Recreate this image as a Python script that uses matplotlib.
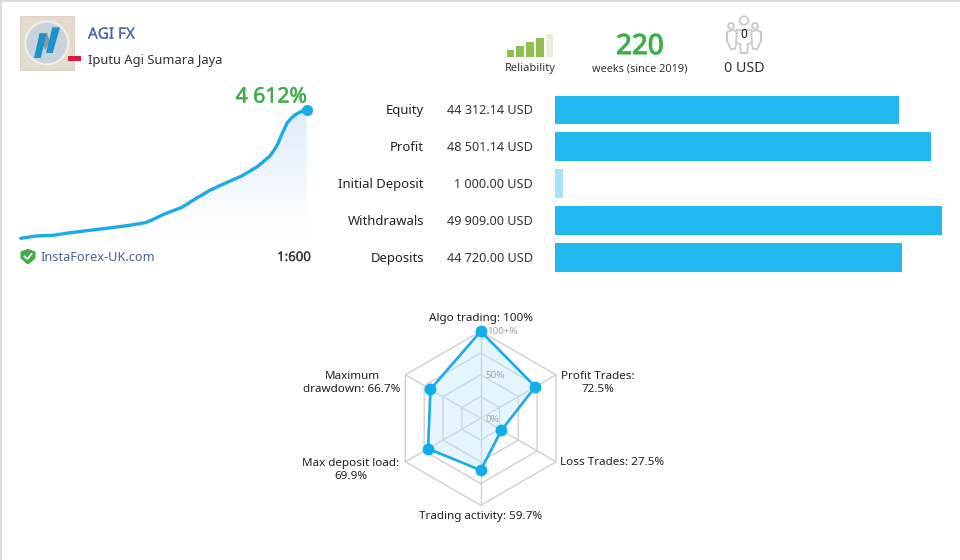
import numpy as np
import matplotlib
matplotlib.use('Agg')
import matplotlib.pyplot as plt
import matplotlib.patheffects as pe
from matplotlib.patches import Circle, Polygon, Rectangle

plt.rcParams['font.family'] = ['Noto Sans', 'DejaVu Sans']

W, H = 960, 560

# growth curve
growth_weeks = [0, 12, 25, 35, 51, 66, 82, 96, 102, 110, 124, 135, 146, 156, 170, 182, 192, 195, 198, 200, 203, 205, 208, 211, 214, 217, 220]
growth_pct = [0, 84, 108, 180, 276, 359, 455, 563, 683, 862, 1114, 1437, 1737, 1953, 2240, 2575, 2971, 3175, 3414, 3650, 3953, 4150, 4313, 4430, 4516, 4575, 4612]

# account bars
bar_labels = ['Equity', 'Profit', 'Initial Deposit', 'Withdrawals', 'Deposits']
bar_values = [44312.14, 48501.14, 1000.00, 49909.00, 44720.00]
bar_texts = ['44 312.14 USD', '48 501.14 USD', '1 000.00 USD', '49 909.00 USD', '44 720.00 USD']

# radar
radar_labels = ['Algo trading: 100%', 'Profit Trades:\n72.5%', 'Loss Trades: 27.5%',
                'Trading activity: 59.7%', 'Max deposit load:\n69.9%', 'Maximum\ndrawdown: 66.7%']
radar_values = [100, 72.5, 27.5, 59.7, 69.9, 66.7]
radar_rings = [25, 50, 75, 100]
radar_ticks = ['0%', '50%', '100+%']

# reliability steps
reliability_heights = [7, 11, 15, 19, 23]

BLUE = '#22b8f0'
LINE_BLUE = '#1cabe4'
GREEN = '#3fae49'
DARK = '#222222'


def px_axes(fig, left, top, width, height, **kwargs):
    return fig.add_axes([left / W, 1 - (top + height) / H, width / W, height / H], **kwargs)


def thicken(text, width=0.15):
    text.set_path_effects([pe.withStroke(linewidth=width, foreground=text.get_color())])


fig = plt.figure(figsize=(9.6, 5.6), dpi=100, facecolor='white')

# page layer in pixel coordinates
page = fig.add_axes([0, 0, 1, 1])
page.set_xlim(0, W)
page.set_ylim(H, 0)
page.axis('off')
page.plot([0, W], [0.5, 0.5], color='#dddddd', lw=1.5)
page.plot([0.5, 0.5], [0, H], color='#dddddd', lw=1.5)

# logo
page.add_patch(Rectangle((20, 16), 54, 54, fc='#e3dccb', ec='#d6cfbf', lw=0.6))
page.add_patch(Circle((46.7, 43), 21.5, fc='#c9d3da', ec='#efefec', lw=1.5))
page.add_patch(Polygon([[39, 33], [47, 33], [50, 42], [45, 50]], fc='#8f979c'))
page.add_patch(Polygon([[39.5, 33.5], [46.7, 33.5], [40.7, 58], [34, 58]], fc='#1a94c8'))
page.add_patch(Polygon([[52.3, 27.3], [60, 27.3], [52.7, 53], [46, 53]], fc='#1a94c8'))
page.add_patch(Rectangle((68, 56), 13, 5, fc='#d8183c', ec='none'))

thicken(page.text(88, 35, 'AGI FX', fontsize=11, color='#4a6aa8', va='center'))
page.text(88, 60.5, 'Iputu Agi Sumara Jaya', fontsize=9.25, color='#333333', va='center')
thicken(page.text(307, 97, '4 612%', fontsize=15.2, color=GREEN, ha='right', va='center'), 0.4)

# reliability icon
for i, h in enumerate(reliability_heights):
    page.add_patch(Rectangle((506.7 + i * 9.75, 56.7 - h), 7.6, h, ec='none',
                             fc='#8dc04f' if i < 4 else '#e6f0da'))
page.text(530, 69, 'Reliability', fontsize=8, color='#333333', ha='center', va='center')

thicken(page.text(640, 47, '220', fontsize=20, color=GREEN, ha='center', va='center'), 0.8)
page.text(640, 69, 'weeks (since 2019)', fontsize=7.9, color='#333333', ha='center', va='center')

# subscribers icon
icon = '#cccccc'
for cx, cy, r in [(731, 26, 3), (744, 20.5, 4.3), (755, 26, 3)]:
    page.add_patch(Circle((cx, cy), r, fc='white', ec=icon, lw=1.4))
page.add_patch(Polygon([[727, 32], [733, 30], [737, 32], [737, 41], [735, 49], [731, 49], [727, 41]],
                       fc='white', ec=icon, lw=1.4))
page.add_patch(Polygon([[751, 32], [756, 30], [761, 32], [761, 41], [757, 49], [753, 49], [751, 41]],
                       fc='white', ec=icon, lw=1.4))
page.add_patch(Polygon([[737, 30], [751, 30], [752, 42], [748, 44], [747, 53], [741, 53], [740, 44], [736, 42]],
                       fc='white', ec=icon, lw=1.4))
page.text(744, 35, '0', fontsize=8.5, color='#111111', ha='center', va='center')
page.text(744.5, 69, '0 USD', fontsize=10.3, color='#333333', ha='center', va='center')

# broker row
page.add_patch(Polygon([[21, 252], [28, 249.5], [35, 252], [35, 258], [28, 264], [21, 258]], fc=GREEN, ec=GREEN, lw=0.8))
page.plot([24.5, 27.5, 31.5], [256.5, 259, 254], color='white', lw=1.3)
page.text(40, 257.5, 'InstaForex-UK.com', fontsize=9.2, color='#4a6096', va='center')
thicken(page.text(311, 257.5, '1:600', fontsize=9.5, color='#333333', ha='right', va='center'))

# growth line
ax_line = px_axes(fig, 20.7, 110, 286, 128.3)
ax_line.set_xlim(0, 220)
ax_line.set_ylim(0, 4612)
ax_line.axis('off')
grad = np.linspace(1, 0, 256).reshape(-1, 1)
rgba = np.ones((256, 1, 4))
rgba[..., :3] = matplotlib.colors.to_rgb('#cfe6f9')
rgba[..., 3] = grad * 0.7
img = ax_line.imshow(rgba, extent=[0, 220, 0, 4612], aspect='auto', origin='upper', zorder=1)
poly = ax_line.fill_between(growth_weeks, growth_pct, 0, color='none', zorder=1)
img.set_clip_path(poly.get_paths()[0], transform=ax_line.transData)
ax_line.plot(growth_weeks, growth_pct, color=LINE_BLUE, lw=2.4, solid_joinstyle='round',
             solid_capstyle='round', clip_on=False, zorder=3)
ax_line.plot(growth_weeks[-1], growth_pct[-1], 'o', color=LINE_BLUE, ms=7, clip_on=False, zorder=4)

# horizontal bars
ax_bars = px_axes(fig, 555, 91.5, 387, 184.5)
y_pos = np.arange(len(bar_values))
colors = [BLUE, BLUE, '#a8e2f7', BLUE, BLUE]
ax_bars.barh(y_pos, bar_values, height=0.78, color=colors)
ax_bars.set_xlim(0, max(bar_values))
ax_bars.set_ylim(len(bar_values) - 0.5, -0.5)
ax_bars.axis('off')
for i in y_pos:
    row_y = 91.5 + (i + 0.5) * 184.5 / len(bar_values) + 0.5
    page.text(424, row_y, bar_labels[i], fontsize=9.4, color=DARK, ha='right', va='center')
    page.text(533, row_y, bar_texts[i], fontsize=9.1, color='#333333', ha='right', va='center')

# radar chart
R = 87
ax_radar = px_axes(fig, 480.7 - R, 418.3 - R, 2 * R, 2 * R, projection='polar')
ax_radar.set_theta_zero_location('N')
ax_radar.set_theta_direction(-1)
ax_radar.set_ylim(0, 100)
ax_radar.axis('off')
angles = np.linspace(0, 2 * np.pi, len(radar_values), endpoint=False)
closed = np.append(angles, angles[0])
for ring in radar_rings:
    ax_radar.plot(closed, [ring] * len(closed), color='#d0d0d0', lw=1, clip_on=False, zorder=1)
for a in angles:
    ax_radar.plot([a, a], [0, 100], color='#d0d0d0', lw=1, clip_on=False, zorder=1)
vals = radar_values + radar_values[:1]
ax_radar.fill(closed, vals, color='#bfe8f8', alpha=0.4, zorder=2, clip_on=False)
ax_radar.plot(closed, vals, color=LINE_BLUE, lw=1.9, clip_on=False, zorder=3)
ax_radar.plot(angles, radar_values, 'o', color='#10aeea', ms=7.5, clip_on=False, zorder=4)

label_pos = [(481, 318, 'center'), (598, 383, 'center'), (560, 462.5, 'left'),
             (481, 517, 'center'), (351, 470, 'center'), (352, 383, 'center')]
for text, (x, y, ha) in zip(radar_labels, label_pos):
    page.text(x, y, text, fontsize=8.4, color=DARK, ha=ha, va='center', linespacing=1.25, zorder=5)
tick_pos = [(485, 419.5), (485, 376), (487, 332)]
for text, (x, y) in zip(radar_ticks, tick_pos):
    page.text(x, y, text, fontsize=7, color='#a5a5a5', ha='left', va='center', zorder=5)

page.set_zorder(5)
page.patch.set_alpha(0)
fig.savefig('out.png', dpi=100)
